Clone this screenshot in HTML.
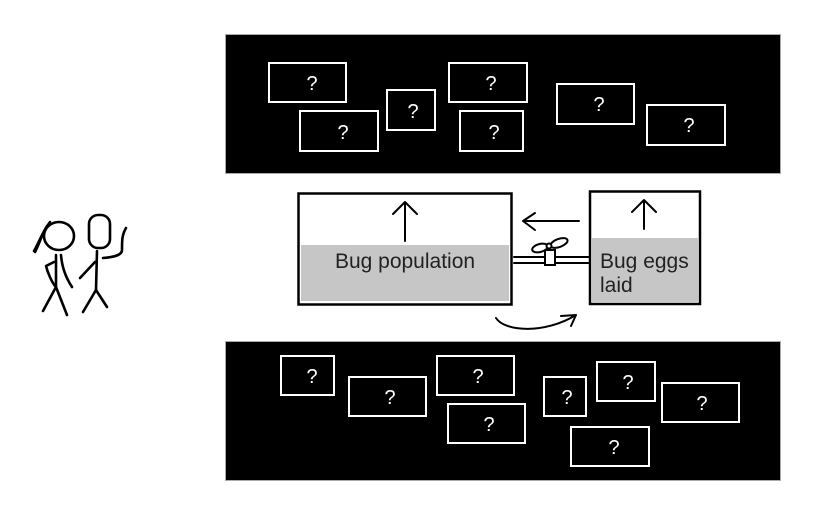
<!DOCTYPE html>
<html><head><meta charset="utf-8"><style>
html,body{margin:0;padding:0;background:#fff;width:832px;height:528px;overflow:hidden}
svg{display:block}
</style></head><body>
<svg width="832" height="528" viewBox="0 0 832 528" xmlns="http://www.w3.org/2000/svg" font-family="'Liberation Sans', sans-serif">
<!-- top panel -->
<rect x="225.5" y="34.5" width="555" height="139" fill="#000" stroke="#aaa" stroke-width="1"/>
<g fill="none" stroke="#fff" stroke-width="2">
<rect x="269" y="63" width="77" height="39"/>
<rect x="300" y="111" width="78" height="40"/>
<rect x="387" y="90" width="48" height="40"/>
<rect x="449" y="63" width="78" height="39"/>
<rect x="460" y="111" width="63" height="40"/>
<rect x="557" y="84" width="77" height="40"/>
<rect x="647" y="105" width="78" height="40"/>
</g>
<g fill="#fff" font-size="20" text-anchor="middle">
<text x="312" y="90">?</text>
<text x="343" y="139">?</text>
<text x="413" y="118">?</text>
<text x="491" y="90">?</text>
<text x="494" y="139">?</text>
<text x="599" y="111">?</text>
<text x="689" y="132">?</text>
</g>
<!-- bottom panel -->
<rect x="225.5" y="341.5" width="555" height="139" fill="#000" stroke="#aaa" stroke-width="1"/>
<g fill="none" stroke="#fff" stroke-width="2">
<rect x="281" y="356" width="53" height="39"/>
<rect x="349" y="377" width="77" height="39"/>
<rect x="437" y="356" width="77" height="39"/>
<rect x="448" y="404" width="77" height="39"/>
<rect x="544" y="377" width="42" height="39"/>
<rect x="597" y="362" width="58" height="39"/>
<rect x="662" y="383" width="77" height="39"/>
<rect x="571" y="427" width="78" height="39"/>
</g>
<g fill="#fff" font-size="20" text-anchor="middle">
<text x="312" y="383">?</text>
<text x="390" y="404">?</text>
<text x="478" y="383">?</text>
<text x="489" y="431">?</text>
<text x="567" y="404">?</text>
<text x="628" y="389">?</text>
<text x="702" y="410">?</text>
<text x="614" y="454">?</text>
</g>
<!-- middle boxes -->
<rect x="298.5" y="193.5" width="213" height="111" fill="#fff" stroke="#000" stroke-width="2.5"/>
<rect x="301" y="245" width="208" height="56" fill="#c6c6c6"/>
<rect x="590" y="191.5" width="110" height="112.5" fill="#fff" stroke="#000" stroke-width="2.5"/>
<rect x="592" y="238" width="106" height="64" fill="#c6c6c6"/>
<g fill="#222" font-size="21">
<text x="405" y="268" text-anchor="middle">Bug population</text>
<text x="600" y="268">Bug eggs</text>
<text x="600" y="292">laid</text>
</g>
<g fill="none" stroke="#000" stroke-width="2" stroke-linecap="round" stroke-linejoin="round">
<path d="M405 241 L405 202 M393 214 L405 202 L417 214"/>
<path d="M644 229 L644 200 M632 212 L644 200 L656 212"/>
<path d="M579 221 L523 221 M535 213 L523 221 L535 230"/>
<path d="M496 318 C505 332 545 334 576 315 M561 316 L576 315 L571 326"/>
<path d="M514 257 L589 257 M514 263 L589 263"/>
</g>
<!-- valve -->
<rect x="545" y="250" width="10" height="15" fill="#fff" stroke="#000" stroke-width="2"/>
<g fill="#fff" stroke="#000" stroke-width="2">
<ellipse cx="540" cy="248" rx="8" ry="4" transform="rotate(-15 540 248)"/>
<ellipse cx="559" cy="243" rx="9" ry="4" transform="rotate(-20 559 243)"/>
<circle cx="549" cy="246" r="2.5"/>
</g>
<!-- stick figures -->
<g fill="none" stroke="#000" stroke-width="2.6" stroke-linecap="round" stroke-linejoin="round">
<ellipse cx="59" cy="236" rx="15" ry="14"/>
<path d="M50 222 C42 232 40 243 35 252"/>
<path d="M47 226 C41 236 38 244 34 251"/>
<path d="M56 255 L56 286"/>
<path d="M61 255 C62 268 66 278 72 287"/>
<path d="M54 262 L46 266 C48 274 52 282 55 286"/>
<path d="M56 287 L43 311 M56 287 L67 315"/>
<rect x="89" y="215" width="21" height="33" rx="9"/>
<path d="M97 251 L96 290"/>
<path d="M95 262 L80 278"/>
<path d="M103 258 C115 257 122 255 122 250 C122 240 122 235 126 228"/>
<path d="M96 290 L83 312 M96 290 L107 307"/>
</g>
</svg>
</body></html>
